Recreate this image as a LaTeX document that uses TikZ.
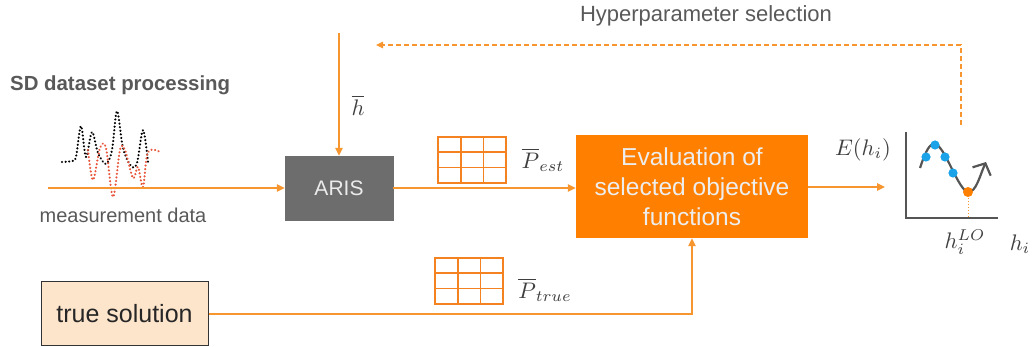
\documentclass[tikz,border=0pt]{standalone}
\usepackage{fontspec}
\setmainfont{Liberation Sans}
\usetikzlibrary{arrows.meta}
\definecolor{lineor}{HTML}{F7962F}
\definecolor{boxor}{HTML}{FF8000}
\definecolor{gridor}{HTML}{F58220}
\definecolor{txtgray}{HTML}{595959}
\definecolor{mathgray}{HTML}{3F3F3F}
\definecolor{arisgray}{HTML}{6D6D6D}
\definecolor{peach}{HTML}{FDE5CC}
\definecolor{sigred}{HTML}{E8553A}
\definecolor{dotblue}{HTML}{1AA3E8}
\definecolor{axgray}{HTML}{555555}
\tikzset{
  conn/.style={draw=lineor, line width=1.3pt, -{Triangle[length=8pt,width=7.5pt]}},
  dconn/.style={draw=lineor, line width=1.2pt, dash pattern=on 5pt off 3pt, -{Triangle[length=7pt,width=6.5pt]}},
  lbl/.style={text=txtgray, inner sep=0pt},
  mlbl/.style={text=mathgray, inner sep=0pt, font=\normalsize, scale=2.25},
  sig/.style={line width=2.4pt, line cap=round, dash pattern=on 0.01pt off 3.6pt},
  gridicon/.pic={
    \draw[gridor, line width=1.6pt] (0,0) rectangle (68,46);
    \draw[gridor, line width=1.6pt] (22.7,0) -- (22.7,46) (45.3,0) -- (45.3,46)
      (0,15.3) -- (68,15.3) (0,30.7) -- (68,30.7);
  }
}
\begin{document}
\begin{tikzpicture}[x=1pt,y=-1pt]
\useasboundingbox (0,0) rectangle (1034,347);

% title texts
\node[lbl, font=\bfseries\fontsize{20.4}{22}\selectfont, anchor=west] (sdtitle) at (10,85) {SD dataset processing};
\node[lbl, font=\fontsize{22}{24}\selectfont] (hyp) at (706,16) {Hyperparameter selection};

% signal curves
\draw[sig, black] plot[smooth, tension=0.55] coordinates {
 (62,162) (72,161) (76,157) (81,126) (86,157) (92,132) (98,153) (106,164) (112,150) (117,111) (123,148) (131,166) (137,163) (143,130) (148,162)};
\draw[sig, sigred] plot[smooth, tension=0.55] coordinates {
 (88,150) (93,180) (100,148) (106,148) (113,197) (120,150) (125,150) (133,178) (138,167) (143,187) (148,152) (160,152)};

% nodes
\node[draw=arisgray, fill=arisgray, minimum width=108pt, minimum height=64pt, inner sep=0pt,
      text=white!92!black, font=\fontsize{21}{23}\selectfont] (aris) at (339,188) {ARIS};
\node[fill=boxor, minimum width=232pt, minimum height=103pt, inner sep=0pt, align=center,
      text=white!93!black, font=\fontsize{24.5}{30}\selectfont] (eval) at (692,186.5)
      {Evaluation of\\selected objective\\functions};
\node[draw=black!80, line width=1pt, fill=peach, minimum width=167pt, minimum height=64pt, inner sep=0pt,
      text=black!85, font=\fontsize{25}{27}\selectfont] (true) at (124.5,314) {true solution};

\node[lbl, font=\fontsize{20}{22}\selectfont] (meas) at (123,215) {measurement data};

% grid icons
\pic at (438,137) {gridicon};
\pic at (435,258) {gridicon};

% math labels
\node[mlbl] (hbar) at (358,105) {$\overline{h}$};
\node[mlbl] (pest) at (543,160) {$\overline{P}_{est}$};
\node[mlbl] (ptrue) at (545,290) {$\overline{P}_{true}$};
\node[mlbl] (eh) at (863,150) {$E(h_i)$};
\node[mlbl] (hlo) at (965,242) {$h_i^{LO}$};
\node[mlbl] (hi) at (1020,244) {$h_i$};

% coordinates
\coordinate (mstart) at (48,188);
\coordinate (htop) at (339,33);
\coordinate (plotin) at (885,187);
\coordinate (plotup) at (961,125);
\coordinate (hyptip) at (376,45);

% connectors
\draw[conn] (mstart) -- (aris.west);
\draw[conn] (htop) -- (aris.north);
\draw[conn] (aris.east) -- (aris.east -| eval.west);
\draw[conn] (true.east) -| (eval.south);
\draw[conn] (eval.east |- plotin) -- (plotin);
\draw[dconn] (plotup) |- (hyptip);

% plot
\draw[axgray, line width=2.6pt] (906,132) -- (906,218) -- (998,218);
\draw[lineor, line width=1pt, dotted] (968,192) -- (968,218);
\draw[axgray, line width=2.2pt, -{Straight Barb[length=9pt,width=20pt]}]
  (920,168) .. controls (926,150) and (930,143) .. (935,144)
  .. controls (945,146) and (958,190) .. (968,192)
  .. controls (976,193) and (980,175) .. (986,162);
\foreach \p/\q in {926/157, 935/145, 945/157, 953/173}
  \fill[dotblue] (\p,\q) circle (4.6pt);
\fill[boxor] (968,192) circle (5pt);
\end{tikzpicture}
\end{document}
